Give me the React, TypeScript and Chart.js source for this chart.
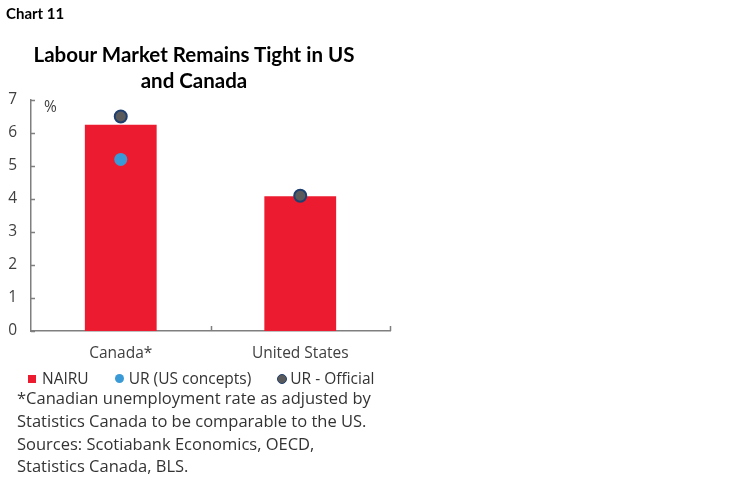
import { useEffect, useRef } from "react";
import { Chart, registerables } from "chart.js";

Chart.register(...registerables);

const categories = ["Canada*", "United States"];
const nairu = [6.25, 4.08];
const urUsConcepts = [5.2, 4.1];
const urOfficial = [6.5, 4.1];
const yTicks = [0, 1, 2, 3, 4, 5, 6, 7];

const RED = "#ED1B2F";
const BLUE = "#3A9AD6";
const DARK = "#5A5A5A";
const NAVY = "#1F3F6E";
const AXIS = "#7F7F7F";
const TITLE_FONT = "Lato, 'Noto Sans', sans-serif";
const FONT = "'Open Sans', 'Noto Sans', sans-serif";

// small inward tick marks on both axes
const axisTicks = {
	id: "axisTicks",
	afterDraw(chart: any) {
		const { ctx } = chart;
		const x = chart.scales.x;
		const y = chart.scales.y;
		ctx.save();
		ctx.strokeStyle = AXIS;
		ctx.lineWidth = 1.5;
		ctx.beginPath();
		yTicks.forEach((v) => {
			const py = Math.round(y.getPixelForValue(v)) + 0.5;
			ctx.moveTo(x.left, py);
			ctx.lineTo(x.left + 4, py);
		});
		const half = (x.getPixelForValue(1) - x.getPixelForValue(0)) / 2;
		categories.forEach((_, i) => {
			const px = Math.round(x.getPixelForValue(i) + half) + 0.5;
			ctx.moveTo(px, y.bottom);
			ctx.lineTo(px, y.bottom - 5);
		});
		ctx.stroke();
		ctx.restore();
	},
};

export default function App() {
	const canvasRef = useRef<HTMLCanvasElement | null>(null);

	useEffect(() => {
		document.body.style.margin = "0";
		if (!canvasRef.current) {
			return;
		}

		const chart = new Chart(canvasRef.current, {
			type: "bar",
			data: {
				labels: categories,
				datasets: [
					{
						type: "line",
						label: "UR - Official",
						data: urOfficial,
						showLine: false,
						pointRadius: 6,
						pointBackgroundColor: DARK,
						pointBorderColor: NAVY,
						pointBorderWidth: 2,
						order: 1,
					},
					{
						type: "line",
						label: "UR (US concepts)",
						data: urUsConcepts,
						showLine: false,
						pointRadius: 6.5,
						pointBackgroundColor: BLUE,
						pointBorderColor: BLUE,
						pointBorderWidth: 0,
						order: 2,
					},
					{
						label: "NAIRU",
						data: nairu,
						backgroundColor: RED,
						barPercentage: 0.4,
						categoryPercentage: 1,
						order: 3,
					},
				],
			},
			options: {
				animation: false,
				responsive: false,
				maintainAspectRatio: false,
				layout: { padding: { left: 0, top: 100, right: 359, bottom: 117 } },
				plugins: {
					legend: { display: false },
					tooltip: { enabled: false },
				},
				scales: {
					x: {
						grid: { display: false, drawTicks: false },
						border: { color: AXIS, width: 1.5 },
						ticks: { color: "#404040", font: { family: FONT, size: 15.5 }, padding: 13 },
						afterFit: (scale: any) => {
							scale.height = 34;
						},
					},
					y: {
						min: 0,
						max: 7,
						grid: { display: false, drawTicks: false },
						border: { color: AXIS, width: 1.5 },
						ticks: {
							stepSize: 1,
							color: "#404040",
							font: { family: FONT, size: 15.5 },
							padding: 14,
						},
						afterFit: (scale: any) => {
							scale.width = 31;
						},
					},
				},
			},
			plugins: [axisTicks],
		});

		return () => {
			chart.destroy();
		};
	}, []);

	const text = { position: "absolute" as const, fontFamily: FONT, color: "#333" };

	return (
		<div style={{ position: "relative", width: 749, height: 482, background: "#fff", overflow: "hidden" }}>
			<canvas ref={canvasRef} width={749} height={482} style={{ position: "absolute", left: 0, top: 0 }} />
			<div style={{ ...text, fontFamily: TITLE_FONT, left: 6, top: 4, fontSize: 15, fontWeight: 700, color: "#000" }}>
				Chart 11
			</div>
			<div
				style={{
					...text,
					fontFamily: TITLE_FONT,
					left: 0,
					width: 388,
					top: 41,
					fontSize: 20.5,
					fontWeight: 700,
					color: "#000",
					textAlign: "center",
					lineHeight: "26px",
				}}
			>
				Labour Market Remains Tight in US
				<br />
				and Canada
			</div>
			<div style={{ ...text, left: 44, top: 95, fontSize: 15.5, color: "#404040" }}>%</div>
			<div style={{ ...text, left: 28, top: 368, fontSize: 15.5, display: "flex", alignItems: "center", lineHeight: "21px" }}>
				<span style={{ width: 8, height: 8, background: RED, marginRight: 6 }} />
				<span style={{ marginRight: 26 }}>NAIRU</span>
				<span style={{ width: 9, height: 9, borderRadius: 5, background: BLUE, marginRight: 5 }} />
				<span style={{ marginRight: 26 }}>UR (US concepts)</span>
				<span
					style={{
						width: 8,
						height: 8,
						borderRadius: 6,
						background: DARK,
						border: `1.5px solid ${NAVY}`,
						marginRight: 3,
					}}
				/>
				<span>UR - Official</span>
			</div>
			<div style={{ ...text, left: 17, top: 387, fontSize: 16.5, lineHeight: "22.8px" }}>
				*Canadian unemployment rate as adjusted by
				<br />
				Statistics Canada to be comparable to the US.
				<br />
				Sources: Scotiabank Economics, OECD,
				<br />
				Statistics Canada, BLS.
			</div>
		</div>
	);
}
